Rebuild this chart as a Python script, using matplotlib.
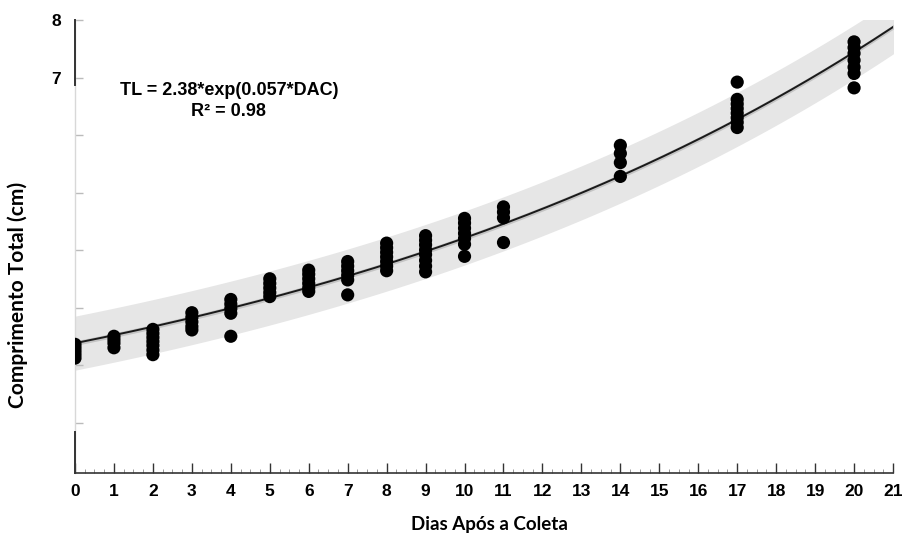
# Crescimento em comprimento total ao longo dos dias após a coleta
# Ajuste exponencial TL = 2.38*exp(0.057*DAC) com faixa de predição

import numpy as np
import matplotlib.pyplot as plt
from matplotlib.ticker import MultipleLocator, FixedLocator

# Dados (cm)
dias = [0, 1, 2, 3, 4, 5, 6, 7, 8, 9, 10, 11, 14, 17, 20]
comprimentos = [
    [2.36, 2.30, 2.24, 2.18, 2.12],
    [2.50, 2.44, 2.38, 2.30],
    [2.62, 2.55, 2.48, 2.41, 2.34, 2.26, 2.18],
    [2.91, 2.83, 2.75, 2.67, 2.61],
    [3.14, 3.06, 2.98, 2.90, 2.50],
    [3.50, 3.42, 3.34, 3.26, 3.19],
    [3.65, 3.58, 3.50, 3.42, 3.34, 3.28],
    [3.80, 3.72, 3.64, 3.56, 3.48, 3.22],
    [4.12, 4.04, 3.96, 3.88, 3.80, 3.72, 3.64],
    [4.25, 4.17, 4.09, 4.00, 3.92, 3.82, 3.72, 3.62],
    [4.55, 4.47, 4.38, 4.29, 4.20, 4.10, 3.89],
    [4.75, 4.66, 4.56, 4.13],
    [5.82, 5.68, 5.52, 5.28],
    [6.92, 6.62, 6.54, 6.46, 6.38, 6.30, 6.22, 6.13],
    [7.62, 7.52, 7.42, 7.30, 7.18, 7.07, 6.82],
]

# parâmetros do ajuste (do texto do gráfico)
a_fit = 2.38
b_fit = 0.057
r2 = 0.98
meia_faixa = 0.47  # meia largura da faixa cinza

x_ticks = list(range(0, 22))
y_ticks = [1, 2, 3, 4, 5, 6, 7, 8]
y_labels = ['', '', '', '', '', '', '7', '8']

x_pts = np.concatenate([[d] * len(v) for d, v in zip(dias, comprimentos)])
y_pts = np.concatenate(comprimentos)

x_fit = np.linspace(0, 21.3, 300)
y_fit = a_fit * np.exp(b_fit * x_fit)

fig = plt.figure(figsize=(9.08, 5.38), dpi=100)
ax = fig.add_axes([0.0826, 0.1208, 0.9009, 0.842])

ax.fill_between(x_fit, y_fit - meia_faixa, y_fit + meia_faixa,
                color='#e6e6e6', linewidth=0, zorder=1)
ax.fill_between(x_fit, y_fit - 0.04, y_fit + 0.04,
                color='#c4c4c4', linewidth=0, zorder=2)
ax.plot(x_fit, y_fit, color='#1a1a1a', linewidth=1.4, zorder=3)
ax.scatter(x_pts, y_pts, s=90, color='black', edgecolors='none', zorder=4)

ax.set_xlim(0, 21)
ax.set_ylim(0.122, 8)

# eixos
for lado in ['top', 'right']:
    ax.spines[lado].set_visible(False)
ax.spines['left'].set_color('#d8d8d8')
ax.spines['left'].set_linewidth(1.0)
ax.spines['bottom'].set_color('#333333')
ax.spines['bottom'].set_linewidth(1.2)
# trechos escuros do eixo y
ax.axvline(0, ymin=0.857, ymax=1.0, color='#333333', linewidth=1.4, clip_on=False, zorder=5)
ax.axvline(0, ymin=0.0, ymax=0.09, color='#333333', linewidth=1.4, clip_on=False, zorder=5)

ax.xaxis.set_major_locator(FixedLocator(x_ticks))
ax.xaxis.set_minor_locator(MultipleLocator(0.25))
ax.set_xticklabels([str(t) for t in x_ticks])
ax.yaxis.set_major_locator(FixedLocator(y_ticks))
ax.set_yticklabels(y_labels)

ax.tick_params(axis='x', which='major', direction='in', length=7, width=1.0,
               color='#333333', pad=8)
ax.tick_params(axis='x', which='minor', direction='in', length=3, width=0.6,
               color='#888888')
ax.tick_params(axis='y', which='major', direction='in', length=6, width=1.0,
               color='#bbbbbb', pad=10)
for t in ax.yaxis.get_major_ticks()[-2:]:
    t.tick1line.set_color('#333333')

for lab in ax.get_xticklabels() + ax.get_yticklabels():
    lab.set_fontfamily('Liberation Sans')
    lab.set_fontweight('bold')
    lab.set_fontsize(12.5)

ax.set_xlabel('Dias Após a Coleta', fontfamily='Lato', fontweight='bold',
              fontsize=13.5)
ax.xaxis.set_label_coords(0.507, -0.094)
ax.set_ylabel('Comprimento Total (cm)', fontfamily='Lato', fontweight='bold',
              fontsize=15)
ax.yaxis.set_label_coords(-0.057, 0.393)

ax.text(3.95, 6.59, f'TL = {a_fit}*exp({b_fit}*DAC)\nR\u00b2 = {r2}',
        ha='center', va='center', fontfamily='Liberation Sans',
        fontweight='bold', fontsize=13, linespacing=1.25)

fig.savefig('out.png', dpi=100)
